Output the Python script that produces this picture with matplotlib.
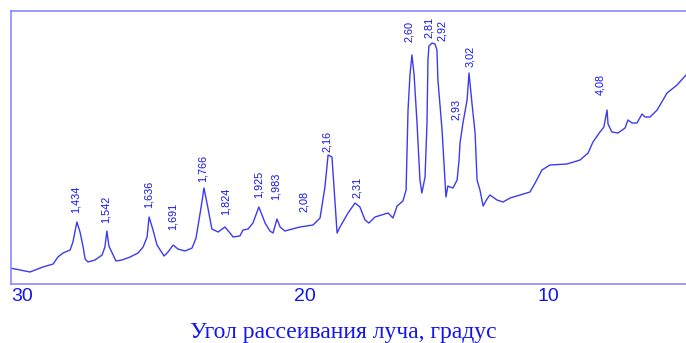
import numpy as np
import matplotlib
matplotlib.use("Agg")
import matplotlib.pyplot as plt

# дифрактограмма: угол (градусы) и интенсивность (усл. ед.)
angle = [30.42, 30.07, 29.72, 29.26, 28.90, 28.73, 28.55, 28.30, 28.20, 28.06,
         27.95, 27.84, 27.77, 27.67, 27.42, 27.17, 27.07, 27.00, 26.93, 26.78,
         26.68, 26.47, 26.18, 25.90, 25.72, 25.58, 25.51, 25.37, 25.23, 24.98,
         24.84, 24.66, 24.49, 24.24, 23.99, 23.85, 23.67, 23.57, 23.43, 23.29,
         23.07, 22.83, 22.65, 22.54, 22.30, 22.19, 22.01, 21.84, 21.63, 21.41,
         21.24, 21.13, 20.99, 20.88, 20.71, 20.18, 19.67, 19.38, 19.18, 19.05,
         18.89, 18.77, 18.68, 18.56, 18.23, 17.94, 17.74, 17.53, 17.37, 17.12,
         16.58, 16.38, 16.21, 15.97, 15.84, 15.76, 15.68, 15.60, 15.51, 15.39,
         15.27, 15.19, 15.06, 14.98, 14.94, 14.90, 14.77, 14.65, 14.57, 14.53,
         14.36, 14.24, 14.20, 14.12, 14.03, 13.91, 13.74, 13.66, 13.62, 13.50,
         13.33, 13.25, 13.13, 13.00, 12.92, 12.80, 12.67, 12.51, 12.39, 12.10,
         11.85, 11.56, 10.74, 10.53, 10.25, 9.92, 9.22, 8.68, 8.35, 8.15,
         7.86, 7.70, 7.57, 7.53, 7.37, 7.12, 6.83, 6.71, 6.54, 6.34,
         6.13, 6.01, 5.80, 5.51, 5.10, 4.69, 4.32]
intensity = [16, 14, 12, 17, 20, 27, 31, 34, 42, 62,
             52, 37, 25, 22, 24, 29, 37, 53, 38, 29,
             23, 24, 27, 31, 37, 47, 67, 54, 39, 28,
             32, 39, 35, 33, 36, 46, 77, 96, 76, 55,
             52, 57, 51, 47, 48, 54, 55, 61, 77, 61,
             53, 51, 65, 57, 53, 57, 59, 66, 97, 129,
             127, 84, 51, 57, 71, 81, 77, 64, 61, 67,
             71, 66, 78, 83, 94, 174, 209, 229, 209, 161,
             104, 91, 107, 161, 224, 238, 241, 240, 234, 204,
             154, 104, 87, 98, 97, 96, 104, 124, 141, 161,
             184, 211, 181, 151, 104, 94, 78, 85, 89, 84,
             82, 86, 92, 101, 114, 119, 120, 124, 131, 142,
             152, 157, 174, 160, 152, 151, 156, 164, 161, 161,
             170, 167, 167, 174, 191, 199, 209]

# межплоскостные расстояния и места подписей
d_labels = ["1,434", "1,542", "1,636", "1,691", "1,766", "1,824", "1,925",
            "1,983", "2,08", "2,16", "2,31", "2,60", "2,81", "2,92",
            "2,93", "3,02", "4,08"]
d_angle = [28.09, 27.03, 25.51, 24.66, 23.60, 22.79, 21.63,
           21.03, 20.04, 19.09, 17.86, 15.72, 14.90, 14.36,
           13.79, 13.21, 7.86]
d_height = [71, 61, 76, 54, 102, 69, 86,
            84, 72, 132, 86, 242, 246, 243,
            164, 217, 189]

xticks = [30, 20, 10]

# шкала угла неравномерная: опорные точки угол -> положение
ref_deg = [3.745, 10, 20, 30, 30.777]
ref_pos = [-700, -548, -305, -22, 0]


def fwd(x):
    return np.interp(x, ref_deg, ref_pos)


def inv(p):
    return np.interp(p, ref_pos, ref_deg)


line_c = "#3b3bf0"
text_c = "#1414f0"
frame_c = "#8a8aff"

fig = plt.figure(figsize=(6.86, 3.43), dpi=100)
ax = fig.add_axes([11 / 686, 59 / 343, 675 / 686, 273 / 343])

ax.set_xscale("function", functions=(fwd, inv))
ax.plot(angle, intensity, color=line_c, lw=1.0)
ax.set_xlim(inv(-11), inv(-686))
ax.set_ylim(0, 273)

for lab, xa, ya in zip(d_labels, d_angle, d_height):
    ax.text(xa, ya, lab, rotation=90, ha="center", va="bottom",
            fontsize=7.8, family="Liberation Sans", color=text_c)

ax.set_xticks(xticks)
ax.set_xticklabels([str(t) for t in xticks], fontsize=14,
                   family="Liberation Sans", color=text_c)
ax.xaxis.set_minor_locator(matplotlib.ticker.NullLocator())
ax.tick_params(axis="x", length=0, pad=3)
ax.set_yticks([])

for side in ["left", "top", "bottom"]:
    ax.spines[side].set_color(frame_c)
    ax.spines[side].set_linewidth(1.2)
ax.spines["right"].set_visible(False)

fig.text(343 / 686, 5 / 343, "Угол рассеивания луча, градус",
         ha="center", va="baseline", fontsize=17,
         family="Liberation Serif", color=text_c)

fig.savefig("out.png", dpi=100)
